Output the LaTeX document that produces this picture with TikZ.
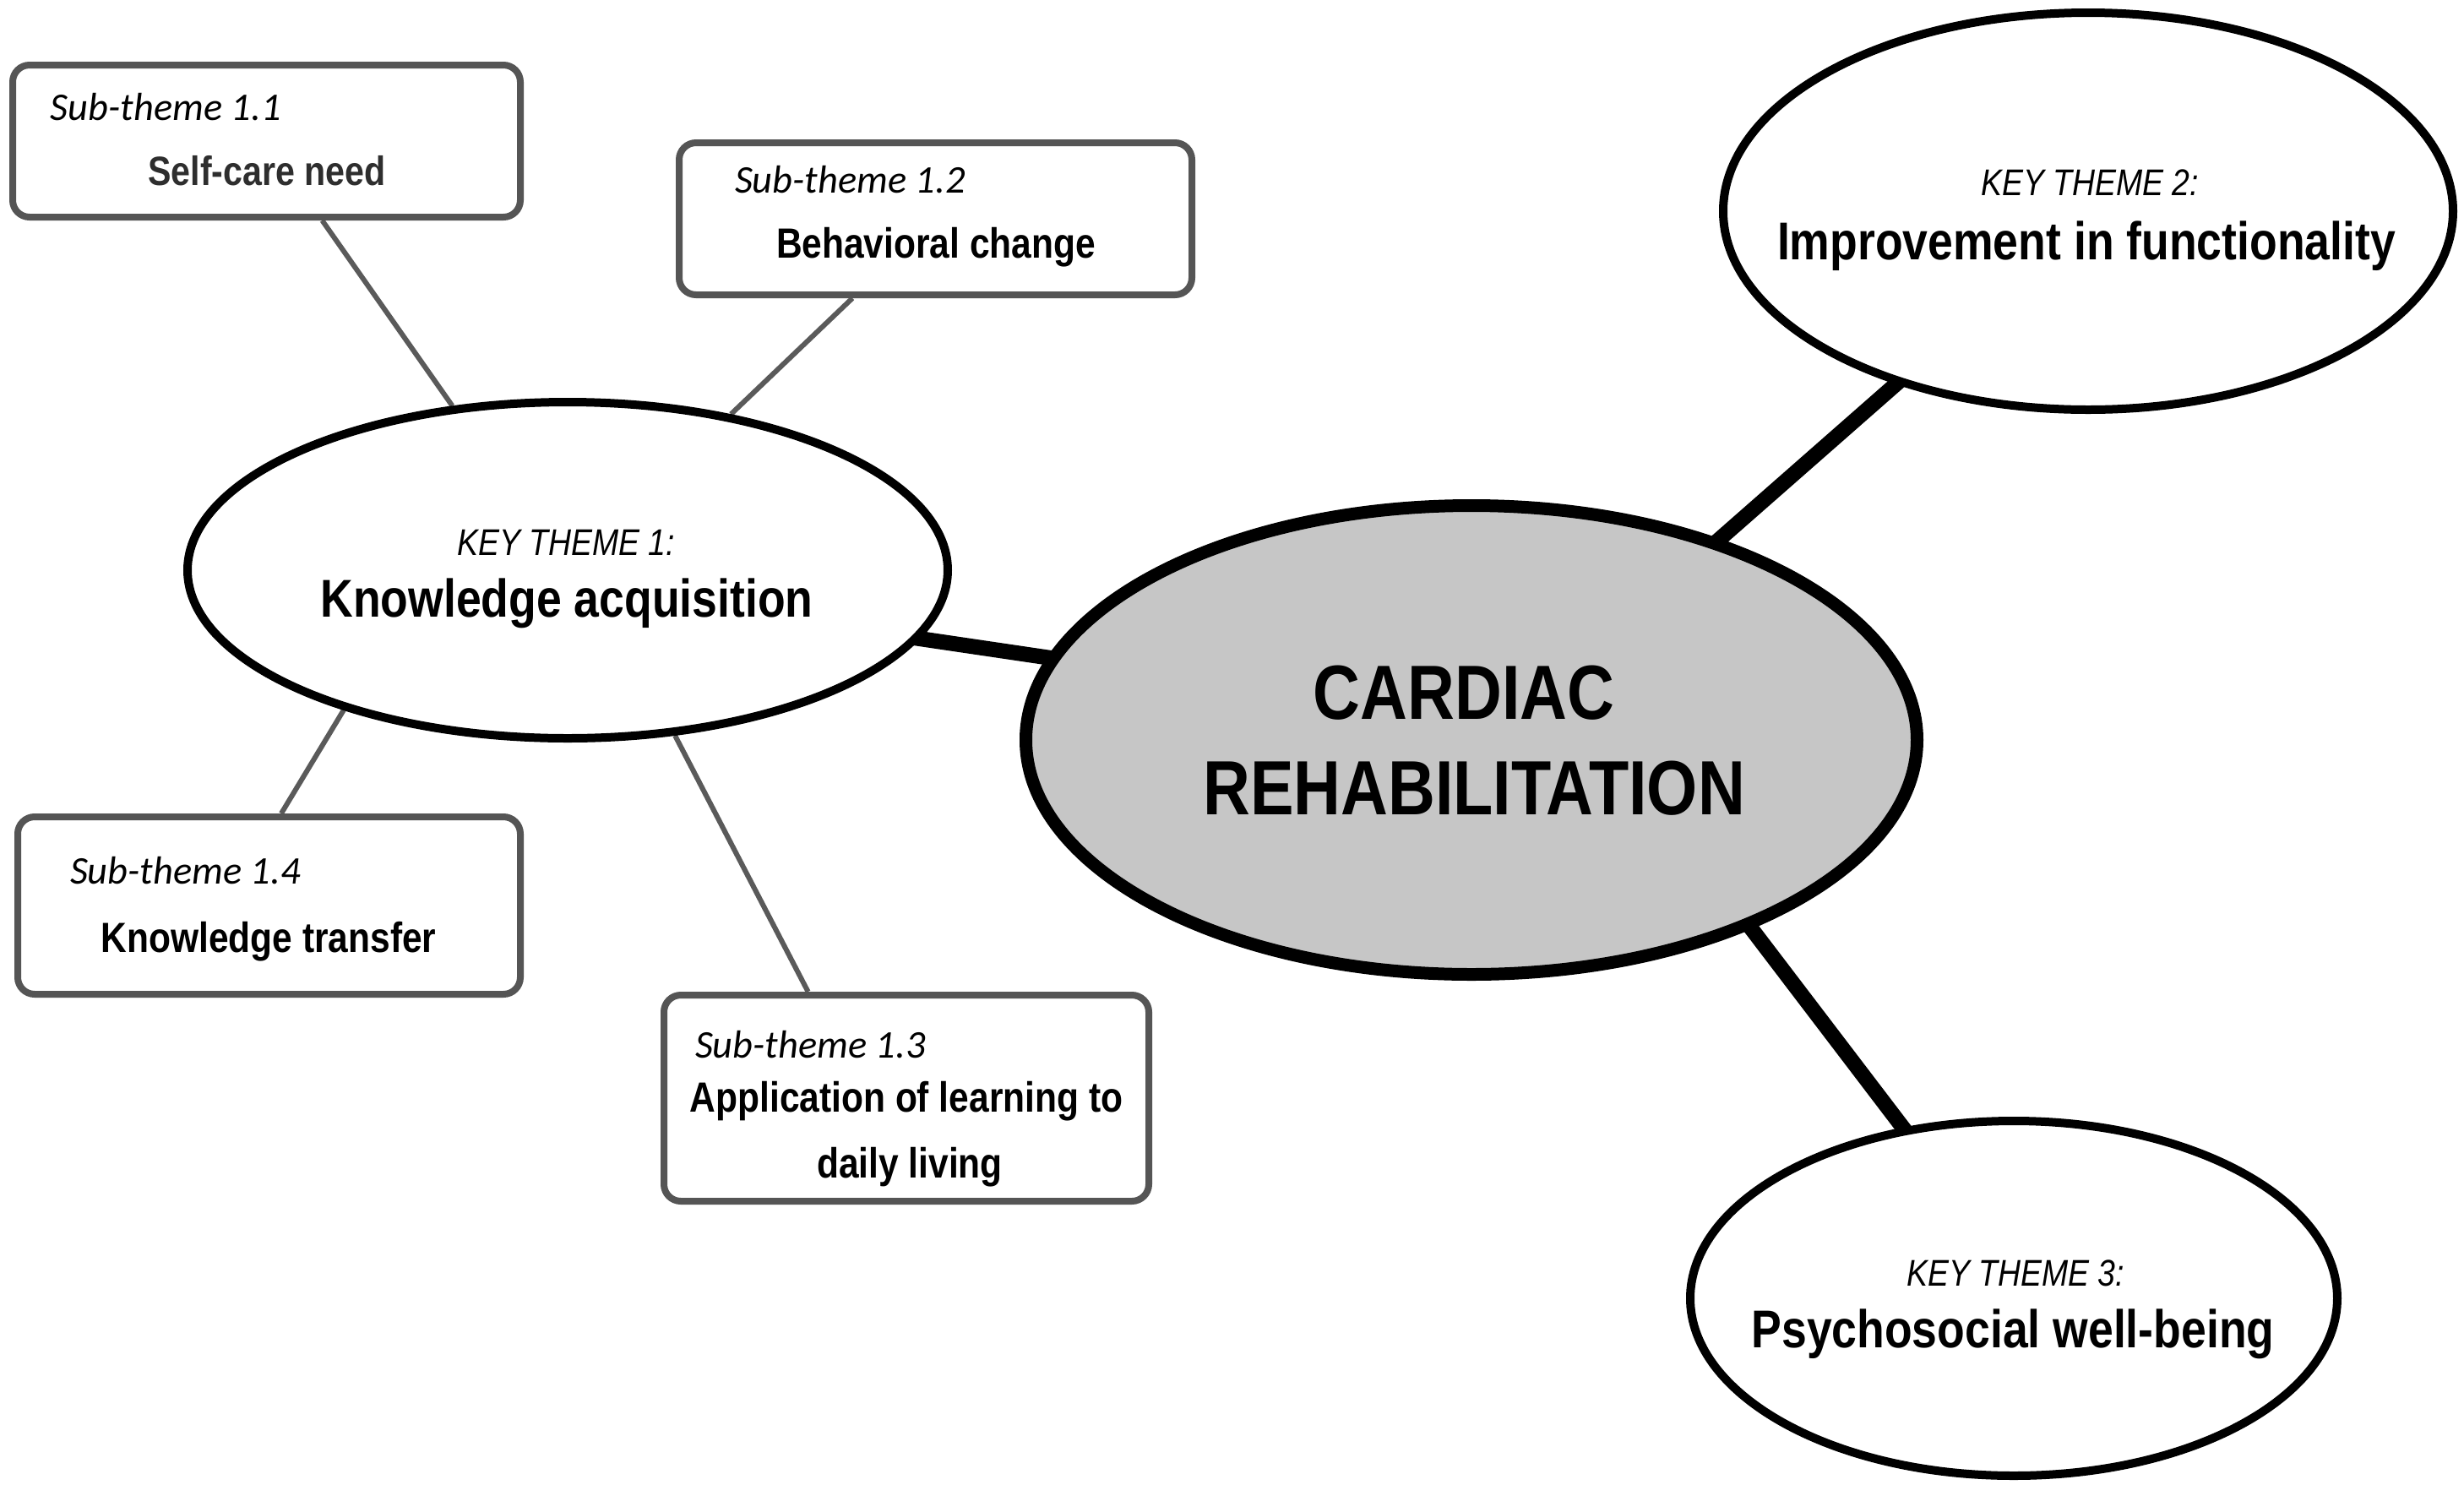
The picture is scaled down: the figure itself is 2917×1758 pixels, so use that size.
\documentclass[tikz,border=0pt]{standalone}
\usepackage{fontspec}
\usetikzlibrary{shapes.geometric,calc,backgrounds}
\newfontfamily\hel{Liberation Sans}[FakeStretch=0.85]
\newfontfamily\subf{Carlito}
\definecolor{boxgray}{HTML}{555555}
\definecolor{centralfill}{HTML}{C6C6C6}
\definecolor{subline}{HTML}{5A5A5A}
\definecolor{darktext}{HTML}{2E2E2E}
\tikzset{
  keyell/.style={ellipse, draw=black, line width=2.5pt, fill=white, inner sep=0pt},
  centralell/.style={ellipse, draw=black, line width=3.75pt, fill=centralfill, inner sep=0pt},
  subbox/.style={rectangle, rounded corners=5pt, draw=boxgray, line width=2pt, fill=white, inner sep=0pt},
  subline/.style={draw=subline, line width=1.5pt},
  mainline/.style={draw=black, line width=4.5pt, shorten <=-3pt, shorten >=-3pt},
  txt/.style={inner sep=0pt, outer sep=0pt},
  subtitle/.style={txt, anchor=base west, font=\subf\itshape\fontsize{11.6}{13}\selectfont},
  subtext/.style={txt, anchor=base, font=\hel\bfseries\fontsize{12.5}{15}\selectfont},
  keytitle/.style={txt, anchor=base, font=\hel\itshape\fontsize{11}{13}\selectfont},
  keytext/.style={txt, anchor=base, font=\hel\bfseries\fontsize{15.75}{19}\selectfont},
  bigtext/.style={txt, anchor=base, font=\hel\bfseries\fontsize{22.75}{27}\selectfont}
}
\begin{document}
\begin{tikzpicture}[x=0.25pt,y=-0.25pt]
\useasboundingbox (0,0) rectangle (2917,1758);

% shapes
\node[keyell, minimum width=225pt, minimum height=99.5pt] (key1) at (672,675) {};
\node[centralell, minimum width=263.75pt, minimum height=138.75pt] (central) at (1742,876) {};
\node[keyell, minimum width=216pt, minimum height=117.5pt] (key2) at (2472,250) {};
\node[keyell, minimum width=191.5pt, minimum height=105pt] (key3) at (2384,1537) {};

\node[subbox, minimum width=150.25pt, minimum height=45pt] (box11) at (315.5,167) {};
\node[subbox, minimum width=151.75pt, minimum height=45pt] (box12) at (1107.5,259) {};
\node[subbox, minimum width=148.75pt, minimum height=52.5pt] (box14) at (318.5,1072) {};
\node[subbox, minimum width=143.5pt, minimum height=61pt] (box13) at (1073,1300) {};

% connectors
\begin{scope}[on background layer]
\fill[white] (0,0) rectangle (2917,1758);
\draw[subline] (box11) -- (key1);
\draw[subline] (box12) -- (key1);
\draw[subline] ($(box14.north west)!0.524!(box14.north east)$) -- (key1.212.6);
\draw[subline] ($(box13.north west)!0.30!(box13.north east)$) -- (key1.303.3);
\draw[mainline] (key1.349.6) -- (central.169);
\draw[mainline] (central.39.2) -- (key2.222.2);
\draw[mainline] (central.326.4) -- (key3.123.9);
\end{scope}

% texts
\node[subtitle] (s11) at (60,142) {Sub-theme 1.1};
\node[subtext, text=darktext, font=\hel\bfseries\fontsize{12.1}{15}\selectfont] (t11) at (316,219) {Self-care need};
\node[subtitle] (s12) at (870,228) {Sub-theme 1.2};
\node[subtext] (t12) at (1108,305) {Behavioral change};
\node[subtitle] (s14) at (83,1046) {Sub-theme 1.4};
\node[subtext] (t14) at (318,1127) {Knowledge transfer};
\node[subtitle] (s13) at (823,1252) {Sub-theme 1.3};
\node[subtext] (t13a) at (1073,1316) {Application of learning to};
\node[subtext] (t13b) at (1077,1394) {daily living};

\node[keytitle] (k1a) at (670,657) {KEY THEME 1:};
\node[keytext] (k1b) at (671,730) {Knowledge acquisition};
\node[keytitle] (k2a) at (2474,231) {KEY THEME 2:};
\node[keytext] (k2b) at (2470,307) {Improvement in functionality};
\node[keytitle] (k3a) at (2386,1522) {KEY THEME 3:};
\node[keytext] (k3b) at (2383,1595) {Psychosocial well-being};

\node[bigtext] (c1) at (1733,851) {CARDIAC};
\node[bigtext] (c2) at (1745,964) {REHABILITATION};
\end{tikzpicture}
\end{document}
